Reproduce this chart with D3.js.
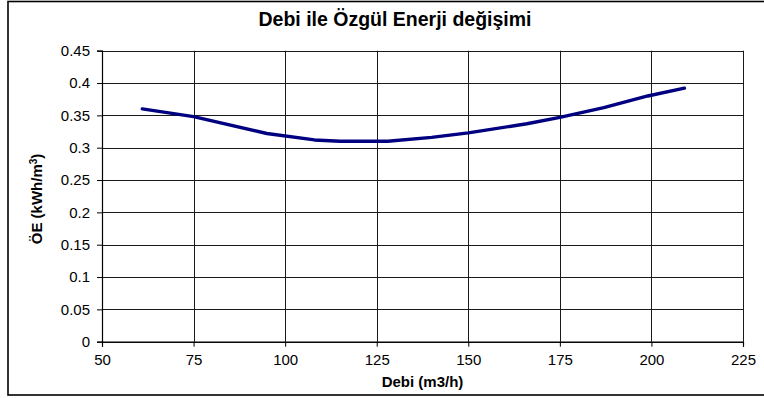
<!DOCTYPE html>
<html>
<head>
<meta charset="utf-8">
<script src="https://cdn.jsdelivr.net/npm/d3@7"></script>
<style>
  html, body { margin: 0; padding: 0; background: #fff; }
  svg { display: block; font-family: "Liberation Sans", Arial, sans-serif; }
</style>
</head>
<body>
<svg id="chart" width="764" height="398"></svg>
<script>
// Debi (m3/h) values and the matching specific energy (kWh/m3)
const debi = [61, 75, 95, 108, 115, 128, 140, 150, 166, 175, 187, 199, 209];
const ozgulEnerji = [0.36, 0.348, 0.322, 0.312, 0.31, 0.31, 0.316, 0.323, 0.337, 0.347, 0.362, 0.38, 0.392];

const xTicks = [50, 75, 100, 125, 150, 175, 200, 225];
const xTickLabels = ["50", "75", "100", "125", "150", "175", "200", "225"];
const yTicks = [0, 0.05, 0.1, 0.15, 0.2, 0.25, 0.3, 0.35, 0.4, 0.45];
const yTickLabels = ["0", "0.05", "0.1", "0.15", "0.2", "0.25", "0.3", "0.35", "0.4", "0.45"];

const chartTitle = "Debi ile Özgül Enerji değişimi";
const xTitle = "Debi (m3/h)";

const svg = d3.select("#chart");
const W = 764, H = 398;
const plot = { left: 102, right: 743, top: 50.7, bottom: 341.7 };

// chart frame
svg.append("rect")
  .attr("x", 8).attr("y", 1.5)
  .attr("width", W - 8 + 2).attr("height", 395 - 1.5)
  .attr("fill", "#fff").attr("stroke", "#000").attr("stroke-width", 1.6);

const x = d3.scaleLinear().domain([50, 225]).range([plot.left, plot.right]);
const y = d3.scaleLinear().domain([0, 0.45]).range([plot.bottom, plot.top]);

// gridlines, snapped to whole pixels
const snap = v => Math.round(v) + 0.5;
const grid = svg.append("g").attr("class", "grid");
grid.selectAll("line.h").data(yTicks).join("line")
  .attr("x1", plot.left).attr("x2", plot.right)
  .attr("y1", d => snap(y(d))).attr("y2", d => snap(y(d)))
  .attr("stroke", "#1a1a1a").attr("stroke-width", 1);
grid.selectAll("line.v").data(xTicks).join("line")
  .attr("y1", plot.top).attr("y2", plot.bottom)
  .attr("x1", d => snap(x(d))).attr("x2", d => snap(x(d)))
  .attr("stroke", "#1a1a1a").attr("stroke-width", 1);

// axes
const yAxis = svg.append("g")
  .attr("transform", `translate(${plot.left},0)`)
  .call(d3.axisLeft(y).tickValues(yTicks).tickSize(5).tickPadding(7)
    .tickFormat((d, i) => yTickLabels[i]));
const xAxis = svg.append("g")
  .attr("transform", `translate(0,${plot.bottom})`)
  .call(d3.axisBottom(x).tickValues(xTicks).tickSize(5).tickPadding(8)
    .tickFormat((d, i) => xTickLabels[i]));

[yAxis, xAxis].forEach(g => {
  g.select(".domain").attr("stroke", "#000").attr("stroke-width", 1.2);
  g.selectAll(".tick line").attr("stroke", "#000");
  g.selectAll("text")
    .attr("fill", "#000")
    .style("font-family", "'Liberation Sans', Arial, sans-serif")
    .style("font-size", "15px");
});

// series line
const line = d3.line()
  .x((d, i) => x(debi[i]))
  .y(d => y(d));
svg.append("path")
  .datum(ozgulEnerji)
  .attr("d", line)
  .attr("fill", "none")
  .attr("stroke", "#000080")
  .attr("stroke-width", 3.4)
  .attr("stroke-linejoin", "round")
  .attr("stroke-linecap", "round");

// titles
svg.append("text")
  .attr("x", 395).attr("y", 25.7)
  .attr("text-anchor", "middle")
  .style("font-size", "19.5px").style("font-weight", "bold")
  .text(chartTitle);

svg.append("text")
  .attr("x", 422.5).attr("y", 387)
  .attr("text-anchor", "middle")
  .style("font-size", "15px").style("font-weight", "bold")
  .text(xTitle);

const yt = svg.append("text")
  .attr("transform", "translate(42,199) rotate(-90)")
  .attr("text-anchor", "middle")
  .style("font-size", "15px").style("font-weight", "bold");
yt.append("tspan").text("ÖE (kWh/m");
yt.append("tspan").attr("baseline-shift", "super").style("font-size", "10px").text("3");
yt.append("tspan").text(")");
</script>
</body>
</html>
